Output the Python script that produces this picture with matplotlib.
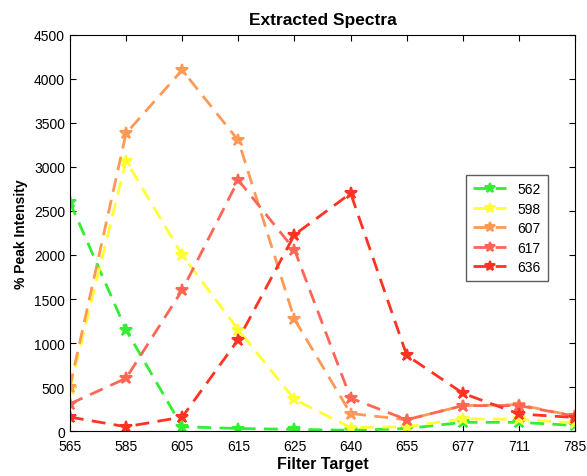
import numpy as np
import matplotlib
matplotlib.use("Agg")
import matplotlib.pyplot as plt

plt.rcParams['font.family'] = ['Liberation Sans', 'DejaVu Sans']

filters = ['565', '585', '605', '615', '625', '640', '655', '677', '711', '785']
names = ['562', '598', '607', '617', '636']
s562 = [2600, 1150, 50, 30, 20, 10, 30, 100, 100, 65]
s598 = [480, 3070, 2000, 1150, 360, 40, 50, 140, 135, 95]
s607 = [500, 3380, 4100, 3300, 1270, 200, 130, 290, 300, 170]
s617 = [310, 600, 1600, 2850, 2060, 375, 130, 290, 290, 170]
s636 = [160, 50, 160, 1040, 2230, 2700, 860, 430, 195, 155]
series = [s562, s598, s607, s617, s636]
colors = ['#33ee33', '#ffff33', '#ff9955', '#ff6655', '#ff3322']

fig = plt.figure(figsize=(5.87, 4.77), dpi=100)
ax = fig.add_axes([0.119, 0.094, 0.861, 0.831])
x = np.arange(len(filters))
for vals, c, n in zip(series, colors, names):
    ax.plot(x, vals, '--', color=c, lw=2, marker='*', ms=9, mew=1.5, label=n, dashes=(5, 3))

ax.set_xlim(0, len(filters) - 1)
ax.set_ylim(0, 4500)
ax.set_xticks(x)
ax.set_xticklabels(filters)
ax.set_yticks(np.arange(0, 4501, 500))
ax.tick_params(direction='in', top=True, right=True, labelsize=10, length=4)
ax.tick_params(axis='x', pad=6)
ax.set_xlabel('Filter Target', fontweight='bold', fontsize=11.5, labelpad=2)
ax.set_ylabel('% Peak Intensity', fontweight='bold', fontsize=10)
ax.set_title('Extracted Spectra', fontweight='bold', fontsize=12.5, pad=8)
leg = ax.legend(loc='upper left', bbox_to_anchor=(0.784, 0.646), fancybox=False,
                edgecolor='#333333', fontsize=10, handlelength=2.4, labelspacing=0.4,
                borderpad=0.5, markerscale=0.8, borderaxespad=0)
leg.get_frame().set_linewidth(1)
fig.savefig('out.png', dpi=100)
